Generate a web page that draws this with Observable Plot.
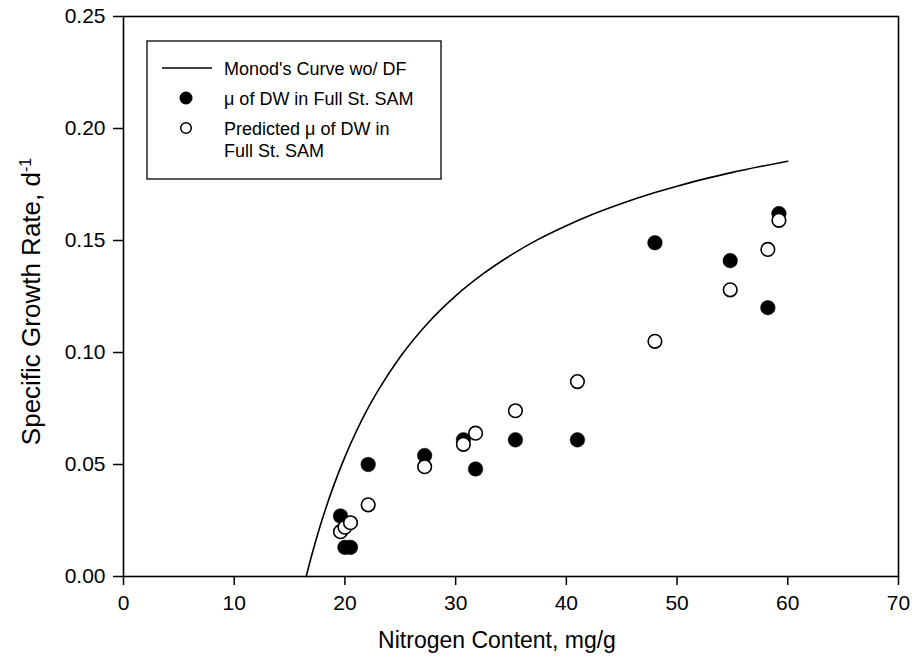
<!DOCTYPE html>
<html>
<head>
<meta charset="utf-8">
<script src="https://cdn.jsdelivr.net/npm/d3@7"></script>
<script src="https://cdn.jsdelivr.net/npm/@observablehq/plot@0.6"></script>
<style>
  html, body { margin: 0; padding: 0; background: #fff; }
  #wrap { position: relative; width: 912px; height: 660px; font-family: "Liberation Sans", Arial, sans-serif; }
  #legend { position: absolute; left: 0; top: 0; pointer-events: none; }
</style>
</head>
<body>
<div id="wrap"></div>
<script>
// ---- data ----
const xTicks = [0, 10, 20, 30, 40, 50, 60, 70];
const yTicks = [0, 0.05, 0.10, 0.15, 0.20, 0.25];

// Monod's curve wo/ DF
const curveN  = [16.5, 17, 17.5, 18, 19, 20, 21, 22, 23, 25, 27.5, 30, 32.5, 35, 37.5, 40, 42.5, 45, 47.5, 50, 52.5, 55, 57.5, 60];
const curveMu = [0, 0.0095, 0.0182, 0.0263, 0.0408, 0.0534, 0.0645, 0.0744, 0.0831, 0.0981, 0.1132, 0.1253, 0.1352, 0.1435, 0.1506, 0.1566, 0.1619, 0.1665, 0.1706, 0.1742, 0.1775, 0.1804, 0.1830, 0.1854];

// μ of DW in Full St. SAM (filled)
const measN  = [19.6, 20.0, 20.5, 22.1, 27.2, 30.7, 31.8, 35.4, 41.0, 48.0, 54.8, 58.2, 59.2];
const measMu = [0.027, 0.013, 0.013, 0.050, 0.054, 0.061, 0.048, 0.061, 0.061, 0.149, 0.141, 0.120, 0.162];

// Predicted μ of DW in Full St. SAM (open)
const predN  = [19.6, 20.0, 20.5, 22.1, 27.2, 30.7, 31.8, 35.4, 41.0, 48.0, 54.8, 58.2, 59.2];
const predMu = [0.020, 0.022, 0.024, 0.032, 0.049, 0.059, 0.064, 0.074, 0.087, 0.105, 0.128, 0.146, 0.159];

const legendLabels = ["Monod's Curve wo/ DF", "μ of DW in Full St. SAM", "Predicted μ of DW in", "Full St. SAM"];
const xTitle = "Nitrogen Content, mg/g";
const yTitle = "Specific Growth Rate, d";
const ySup = "-1";

// ---- tables ----
const curve = curveN.map((n, i) => ({n, mu: curveMu[i]}));
const meas = measN.map((n, i) => ({n, mu: measMu[i]}));
const pred = predN.map((n, i) => ({n, mu: predMu[i]}));

const font = "'Liberation Sans', Arial, sans-serif";

const chart = Plot.plot({
  width: 912,
  height: 660,
  marginLeft: 123,
  marginRight: 14,
  marginTop: 16,
  marginBottom: 84,
  x: {domain: [0, 70]},
  y: {domain: [0, 0.25]},
  style: {fontFamily: font, color: "black", background: "white", overflow: "visible"},
  marks: [
    Plot.axisX({ticks: xTicks, tickSize: 9, tickPadding: 10, fontSize: 21, label: null, strokeWidth: 1.5, tickFormat: d => String(d)}),
    Plot.axisY({ticks: yTicks, tickSize: 10, tickPadding: 8, fontSize: 21, label: null, strokeWidth: 1.5, tickFormat: d3.format(".2f")}),
    Plot.line(curve, {x: "n", y: "mu", stroke: "black", strokeWidth: 1.6, curve: "monotone-x"}),
    Plot.dot(meas, {x: "n", y: "mu", r: 7.3, fill: "black", stroke: "black", strokeWidth: 0.5}),
    Plot.dot(pred, {x: "n", y: "mu", r: 6.8, fill: "white", stroke: "black", strokeWidth: 1.6}),
    Plot.frame({stroke: "black", strokeWidth: 1.6}),
    Plot.text([xTitle], {frameAnchor: "bottom", lineAnchor: "middle", textAnchor: "middle", dy: 64, dx: -14, fontSize: 23, fill: "black"}),
    Plot.text([yTitle], {frameAnchor: "left", lineAnchor: "middle", textAnchor: "middle", rotate: -90, dx: -92, dy: 5, fontSize: 26, fill: "black", className: "ytitle"})
  ]
});

const wrap = document.getElementById("wrap");
wrap.appendChild(chart);

// superscript on y title
const yt = chart.querySelector("g.ytitle text") || Array.from(chart.querySelectorAll("text")).find(t => t.textContent === yTitle);
if (yt) {
  const ts = document.createElementNS("http://www.w3.org/2000/svg", "tspan");
  ts.setAttribute("dy", "-0.55em");
  ts.setAttribute("font-size", "16");
  ts.textContent = ySup;
  yt.appendChild(ts);
}

// legend overlay
const lg = d3.select(wrap).append("svg")
  .attr("id", "legend")
  .attr("width", 912).attr("height", 660)
  .style("font-family", font);
lg.append("rect").attr("x", 147).attr("y", 41).attr("width", 294).attr("height", 138)
  .attr("fill", "white").attr("stroke", "black").attr("stroke-width", 1.3);
lg.append("line").attr("x1", 162).attr("x2", 212).attr("y1", 68).attr("y2", 68)
  .attr("stroke", "black").attr("stroke-width", 1.5);
lg.append("circle").attr("cx", 186).attr("cy", 98).attr("r", 6.5).attr("fill", "black");
lg.append("circle").attr("cx", 186).attr("cy", 128).attr("r", 5.3).attr("fill", "white").attr("stroke", "black").attr("stroke-width", 1.5);
const rows = [68, 98, 128, 150];
legendLabels.forEach((t, i) => {
  lg.append("text").attr("x", 224).attr("y", rows[i] + 6.5)
    .attr("font-size", 18).attr("fill", "black").text(t);
});
</script>
</body>
</html>
